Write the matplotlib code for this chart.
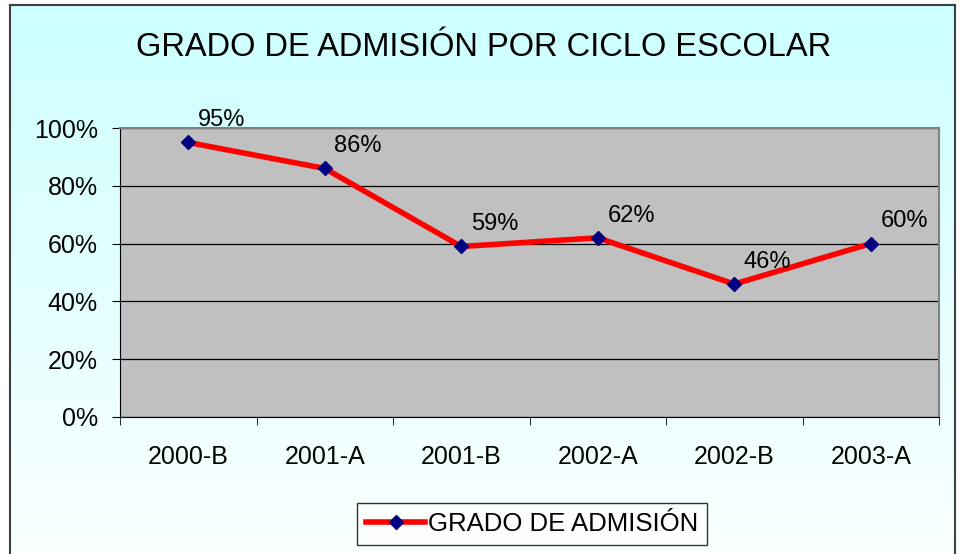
import numpy as np
import matplotlib
matplotlib.use("Agg")
import matplotlib.pyplot as plt
from matplotlib.ticker import FixedLocator, PercentFormatter

plt.rcParams['font.family'] = ['Liberation Sans', 'DejaVu Sans']

ciclos = ["2000-B", "2001-A", "2001-B", "2002-A", "2002-B", "2003-A"]
admision = [95, 86, 59, 62, 46, 60]
etiquetas = ["95%", "86%", "59%", "62%", "46%", "60%"]

W, H = 961, 554
fig = plt.figure(figsize=(W / 100, H / 100), dpi=100)
fig.patch.set_facecolor("white")

# fondo degradado del area del grafico
bg = fig.add_axes([10 / W, 0, 945 / W, 1 - 5 / H])
grad = np.linspace(0, 1, 256).reshape(-1, 1)
top = np.array([0.80, 1.0, 1.0])
bottom = np.array([0.98, 1.0, 1.0])
img = top + (bottom - top) * grad[:, :, None]
bg.imshow(img, aspect="auto", extent=[0, 1, 0, 1])
bg.set_xlim(0, 1)
bg.set_ylim(0, 1)
bg.spines["bottom"].set_visible(False)
for s in ["left", "top", "right"]:
    bg.spines[s].set_color("#404040")
    bg.spines[s].set_linewidth(1.5)
bg.set_xticks([])
bg.set_yticks([])

# area de trazado
ax = fig.add_axes([120 / W, 1 - 417 / H, 819 / W, 289 / H])
ax.set_facecolor("#c0c0c0")
x = np.arange(len(ciclos))
ax.plot(x, admision, color="red", lw=4, marker="D", markersize=7,
        markerfacecolor="#000080", markeredgecolor="#000080", label="GRADO DE ADMISIÓN", zorder=3)
for xi, yi, t in zip(x, admision, etiquetas):
    ax.annotate(t, (xi, yi), xytext=(7, 16), textcoords="offset points",
                fontsize=17, ha="left", va="center")

ax.set_xlim(-0.5, len(ciclos) - 0.5)
ax.set_ylim(0, 100)
ax.set_yticks(np.arange(0, 101, 20))
ax.yaxis.set_major_formatter(PercentFormatter(decimals=0))
ax.grid(axis="y", color="black", lw=0.9)
ax.set_axisbelow(True)
ax.set_xticks(x)
ax.set_xticklabels(ciclos)
ax.xaxis.set_minor_locator(FixedLocator(np.arange(-0.5, len(ciclos), 1.0)))
ax.tick_params(axis="x", which="major", length=0, pad=20, labelsize=18)
ax.tick_params(axis="x", which="minor", length=6, direction="out", color="black")
ax.tick_params(axis="y", length=6, direction="out", labelsize=18, pad=10)
ax.spines["top"].set_color("#808080")
ax.spines["right"].set_color("#808080")
ax.spines["top"].set_linewidth(1.5)
ax.spines["right"].set_linewidth(1.5)
ax.spines["left"].set_color("black")
ax.spines["bottom"].set_color("black")

fig.text(484 / W, 1 - 47 / H, "GRADO DE ADMISIÓN POR CICLO ESCOLAR", fontsize=23.5,
         ha="center", va="center")

leg = fig.legend(loc="center", bbox_to_anchor=(532 / W, 1 - 524 / H), fontsize=18.5,
                 frameon=True, fancybox=False, edgecolor="black", handlelength=2.3,
                 handletextpad=0.1, borderpad=0.35, borderaxespad=0)
leg.get_frame().set_linewidth(1.0)

fig.savefig("out.png", dpi=100)
